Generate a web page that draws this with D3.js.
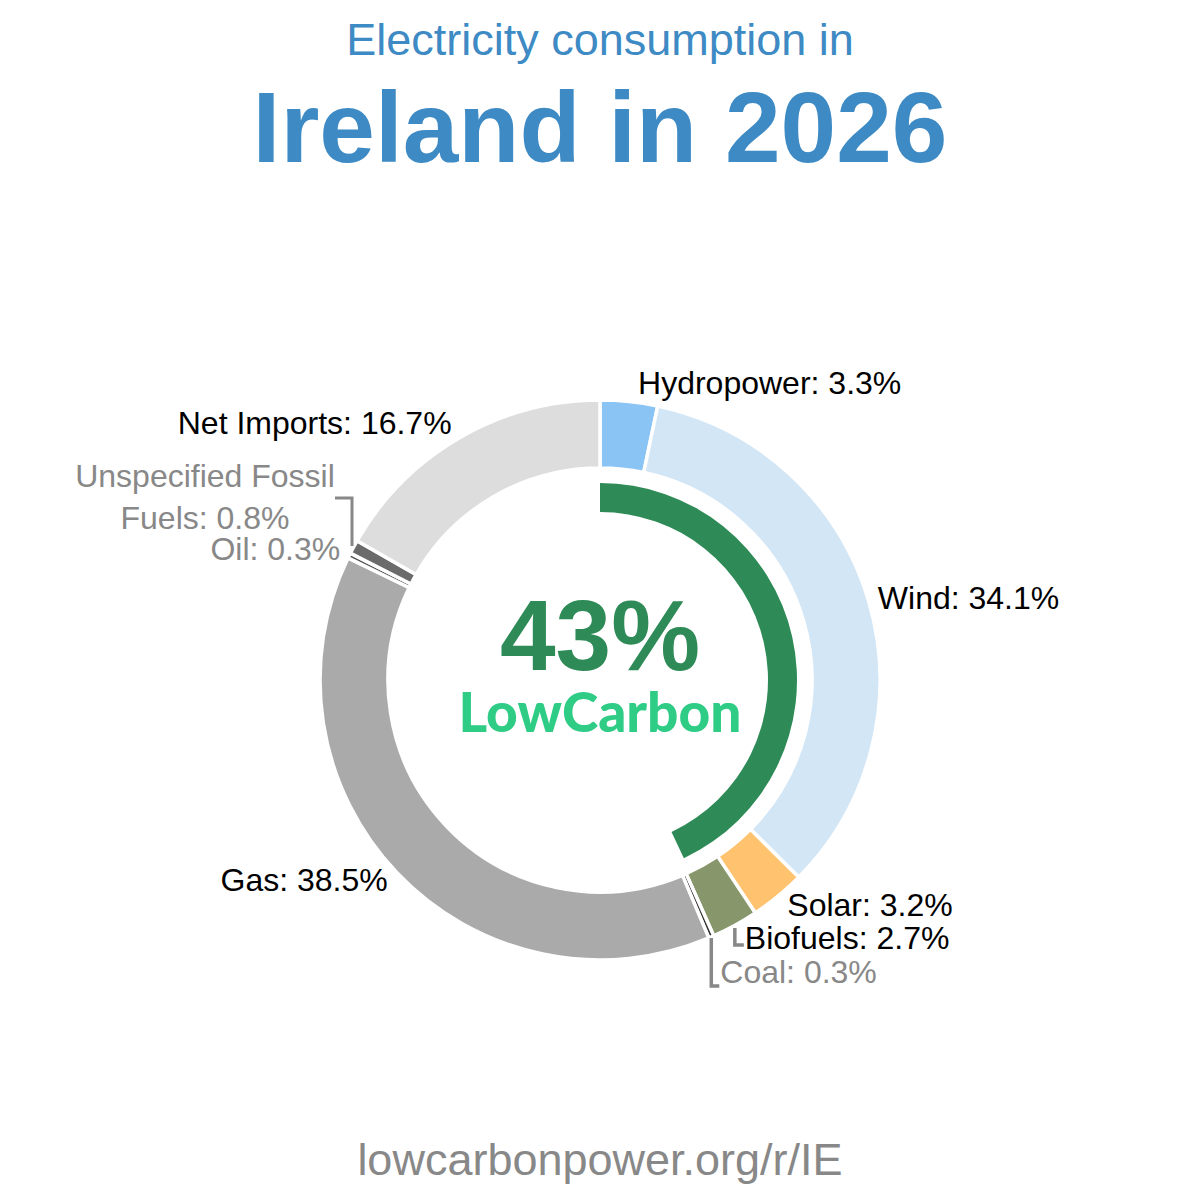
<!DOCTYPE html>
<html><head><meta charset="utf-8">
<script src="https://cdn.jsdelivr.net/npm/d3@7"></script>
<style>html,body{margin:0;padding:0;background:#fff}</style>
</head><body>
<svg id="c" width="1200" height="1200"></svg>
<script>
const categories = ["Hydropower","Wind","Solar","Biofuels","Coal","Gas","Oil","Unspecified Fossil Fuels","Net Imports"];
const values = [3.3, 34.1, 3.2, 2.7, 0.3, 38.5, 0.3, 0.8, 16.7];
const colors = ["#89c4f4","#d2e6f6","#ffc370","#87966b","#333333","#aaaaaa","#555555","#6b6b6b","#dddddd"];
const minorFlags = [false,false,false,false,true,false,true,true,false];
const lowCarbonShare = 43;

const svg = d3.select("#c");
const cx = 600, cy = 680;
const g = svg.append("g").attr("transform", `translate(${cx},${cy})`);

const data = categories.map((c,i)=>({name:c, value:values[i], color:colors[i], minor:minorFlags[i]}));
const pie = d3.pie().value(d=>d.value).sort(null);
const arcs = pie(data);
const arc = d3.arc().innerRadius(212).outerRadius(280);

g.selectAll("path.slice").data(arcs).join("path")
  .attr("class","slice")
  .attr("d", arc)
  .attr("fill", d=>d.data.color)
  .attr("stroke","#fff").attr("stroke-width",3.5);

// low carbon arc
const lcArc = d3.arc().innerRadius(168).outerRadius(197)
  .startAngle(0).endAngle(2*Math.PI*lowCarbonShare/100);
g.append("path").attr("d", lcArc()).attr("fill","#2e8b57");

// labels
const labelArc = d3.arc().innerRadius(290).outerRadius(290);
const labelAdjust = {
  "Hydropower": {dx: 8, dy: -9},
  "Wind": {dx: 0, dy: 1},
  "Solar": {dx: 3, dy: 1},
  "Biofuels": {dx: 5, dy: 4},
  "Coal": {dx: 5, dy: 26},
  "Gas": {dx: -2, dy: 0},
  "Oil": {dx: 0, dy: -2},
  "Unspecified Fossil Fuels": {dx: 0, dy: 0},
  "Net Imports": {dx: -3, dy: -6}
};
const fontSize = 32;
arcs.forEach(a=>{
  const [x,y] = labelArc.centroid(a);
  const mid = (a.startAngle + a.endAngle)/2;
  const right = mid < Math.PI;
  const adj = labelAdjust[a.data.name];
  const fill = a.data.minor ? "#888888" : "#000000";
  const txt = `${a.data.name}: ${a.data.value}%`;
  if (a.data.name === "Unspecified Fossil Fuels") {
    const t = g.append("text").attr("text-anchor","middle")
      .attr("font-family","Liberation Sans, Arial, sans-serif")
      .attr("font-size",fontSize).attr("fill",fill);
    t.append("tspan").attr("x",-395).attr("y",-193).text("Unspecified Fossil");
    t.append("tspan").attr("x",-395).attr("y",-151).text(`Fuels: ${a.data.value}%`);
    g.append("path").attr("d",`M${-265},${-182}H${-248}V${-134}`)
      .attr("fill","none").attr("stroke","#888").attr("stroke-width",3);
    return;
  }
  g.append("text")
    .attr("x", x + adj.dx).attr("y", y + adj.dy)
    .attr("dy","0.35em")
    .attr("text-anchor", right ? "start" : "end")
    .attr("font-family","Liberation Sans, Arial, sans-serif")
    .attr("font-size",fontSize).attr("fill",fill)
    .text(txt);
  if (a.data.name === "Biofuels") {
    g.append("path").attr("d",`M${x+adj.dx-10},${y+adj.dy-10}V${y+adj.dy+7}H${x+adj.dx-1}`)
      .attr("fill","none").attr("stroke","#888").attr("stroke-width",3.5);
  }
  if (a.data.name === "Coal") {
    g.append("path").attr("d",`M${x+adj.dx-9},${y+adj.dy-34}V${y+adj.dy+14}H${x+adj.dx-1}`)
      .attr("fill","none").attr("stroke","#888").attr("stroke-width",3.5);
  }
});

// center text
g.append("text").attr("x",0).attr("y",-10).attr("text-anchor","middle")
  .attr("font-family","Liberation Sans, Arial, sans-serif").attr("font-weight","bold")
  .attr("font-size",100).attr("fill","#2e8b57").text(`${lowCarbonShare}%`);
g.append("text").attr("x",0).attr("y",52).attr("text-anchor","middle")
  .attr("font-family","Lato, sans-serif").attr("font-weight","900")
  .attr("font-size",55).attr("fill","#2ecc85").text("LowCarbon");

// titles
svg.append("text").attr("x",600).attr("y",55).attr("text-anchor","middle")
  .attr("font-family","Liberation Sans, Arial, sans-serif").attr("font-size",45)
  .attr("fill","#3d8ac4").text("Electricity consumption in");
svg.append("text").attr("x",600).attr("y",162).attr("text-anchor","middle")
  .attr("font-family","Liberation Sans, Arial, sans-serif").attr("font-weight","bold")
  .attr("font-size",100).attr("fill","#3d8ac4").text("Ireland in 2026");
svg.append("text").attr("x",600).attr("y",1175).attr("text-anchor","middle")
  .attr("font-family","Liberation Sans, Arial, sans-serif").attr("font-size",45)
  .attr("fill","#888888").text("lowcarbonpower.org/r/IE");
</script>
</body></html>
